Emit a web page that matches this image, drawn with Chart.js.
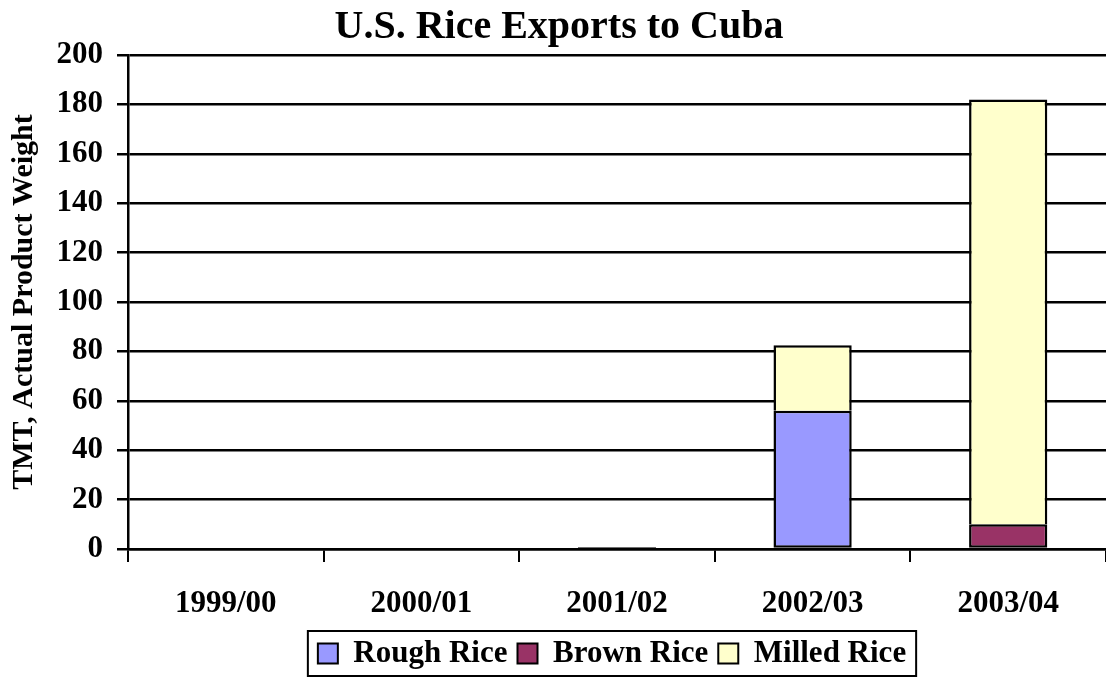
<!DOCTYPE html>
<html lang="en">
<head>
  <meta charset="UTF-8">
  <title>U.S. Rice Exports to Cuba</title>
  <script src="https://cdn.jsdelivr.net/npm/chart.js"></script>
  <style>
    body {
      margin: 0;
      background: white;
      overflow: hidden;
    }
    #wrap {
      width: 1106px;
      height: 679px;
    }
  </style>
</head>
<body>
  <div id="wrap"><canvas id="riceChart" width="1106" height="679"></canvas></div>

  <script>
    // marketing years on the x axis
    const years = ['1999/00', '2000/01', '2001/02', '2002/03', '2003/04'];
    // TMT, actual product weight (null = nothing shipped)
    const roughRice = [null, null, null, 56, null];
    const brownRice = [null, null, null, null, 10];
    const milledRice = [null, null, 0.8, 26.5, 172];
    const yTicks = [0, 20, 40, 60, 80, 100, 120, 140, 160, 180, 200];

    const serif = '"Liberation Serif", "Times New Roman", serif';
    const Y_AXIS_W = 122;   // puts the y axis line at x=128
    const X_AXIS_H = 79;    // puts the x axis line at y=549

    // legend sits under the plot area, with a black frame round it
    const legendBox = {
      id: 'legendBox',
      afterLayout(chart) {
        const lg = chart.legend;
        if (!lg || !chart.chartArea) return;
        lg.left = chart.chartArea.left;
        lg.right = chart.chartArea.right - 10;
      },
      afterDraw(chart) {
        const lg = chart.legend;
        if (!lg || !lg.lineWidths) return;
        const pad = lg.options.labels.padding;
        const lw = lg.lineWidths[0];
        const start = (lg.left + pad + lg.right - lw) / 2;
        const end = start + lw - pad;
        const ctx = chart.ctx;
        ctx.save();
        ctx.strokeStyle = '#000';
        ctx.lineWidth = 2;
        ctx.strokeRect(start - 10, lg.top + 3, end - start + 20, lg.height - 6);
        ctx.restore();
      }
    };

    function bars(label, data, color, skip) {
      return {
        label,
        data,
        backgroundColor: color,
        borderColor: '#000',
        borderWidth: c => (c.raw ? 2.5 : 0),
        borderSkipped: skip || false,
        barPercentage: 0.4,
        categoryPercentage: 1
      };
    }

    // milled rice sits on top: drop its bottom edge where a segment is below it
    const milledSkip = c =>
      (roughRice[c.dataIndex] || brownRice[c.dataIndex]) ? 'bottom' : false;

    new Chart(document.getElementById('riceChart'), {
      type: 'bar',
      data: {
        labels: years,
        datasets: [
          bars('Rough Rice', roughRice, '#9999FF'),
          bars('Brown Rice', brownRice, '#993366'),
          bars('Milled Rice', milledRice, '#FFFFCC', milledSkip)
        ]
      },
      options: {
        responsive: false,
        animation: false,
        // plot runs a little past the right edge, as in the original
        layout: { padding: { left: 6, right: -6, top: 0, bottom: 0 } },
        plugins: {
          title: {
            display: true,
            text: 'U.S. Rice Exports to Cuba',
            color: '#000',
            font: { family: serif, size: 40, weight: 'bold', lineHeight: 1.2 },
            padding: { top: 4, bottom: 3 }
          },
          legend: {
            position: 'bottom',
            labels: {
              color: '#000',
              font: { family: serif, size: 31, weight: 'bold', lineHeight: 1 },
              boxWidth: 20,
              boxHeight: 20,
              padding: 10,
              generateLabels(chart) {
                return Chart.defaults.plugins.legend.labels.generateLabels(chart)
                  .map(l => Object.assign(l, { lineWidth: 2, strokeStyle: '#000' }));
              }
            }
          },
          tooltip: { enabled: false }
        },
        scales: {
          x: {
            stacked: true,
            afterFit(scale) {
              scale.height = X_AXIS_H;
            },
            grid: {
              offset: true,
              drawOnChartArea: false,
              drawTicks: true,
              tickLength: 13,
              color: '#000',
              lineWidth: 2
            },
            border: { display: true, color: '#000', width: 2.5 },
            ticks: {
              color: '#000',
              padding: 23,
              font: { family: serif, size: 31, weight: 'bold' }
            }
          },
          y: {
            stacked: true,
            min: 0,
            max: 200,
            afterBuildTicks(scale) {
              scale.ticks = yTicks.map(v => ({ value: v }));
            },
            afterFit(scale) {
              scale.width = Y_AXIS_W;
            },
            grid: {
              color: '#000',
              lineWidth: 2.5,
              tickLength: 11
            },
            border: { display: true, color: '#000', width: 2.5 },
            ticks: {
              color: '#000',
              padding: 14,
              font: { family: serif, size: 31, weight: 'bold' }
            },
            title: {
              display: true,
              text: 'TMT, Actual Product Weight',
              color: '#000',
              font: { family: serif, size: 30, weight: 'bold' },
              padding: { top: 0, bottom: 3 }
            }
          }
        }
      },
      plugins: [legendBox]
    });
  </script>
</body>
</html>
